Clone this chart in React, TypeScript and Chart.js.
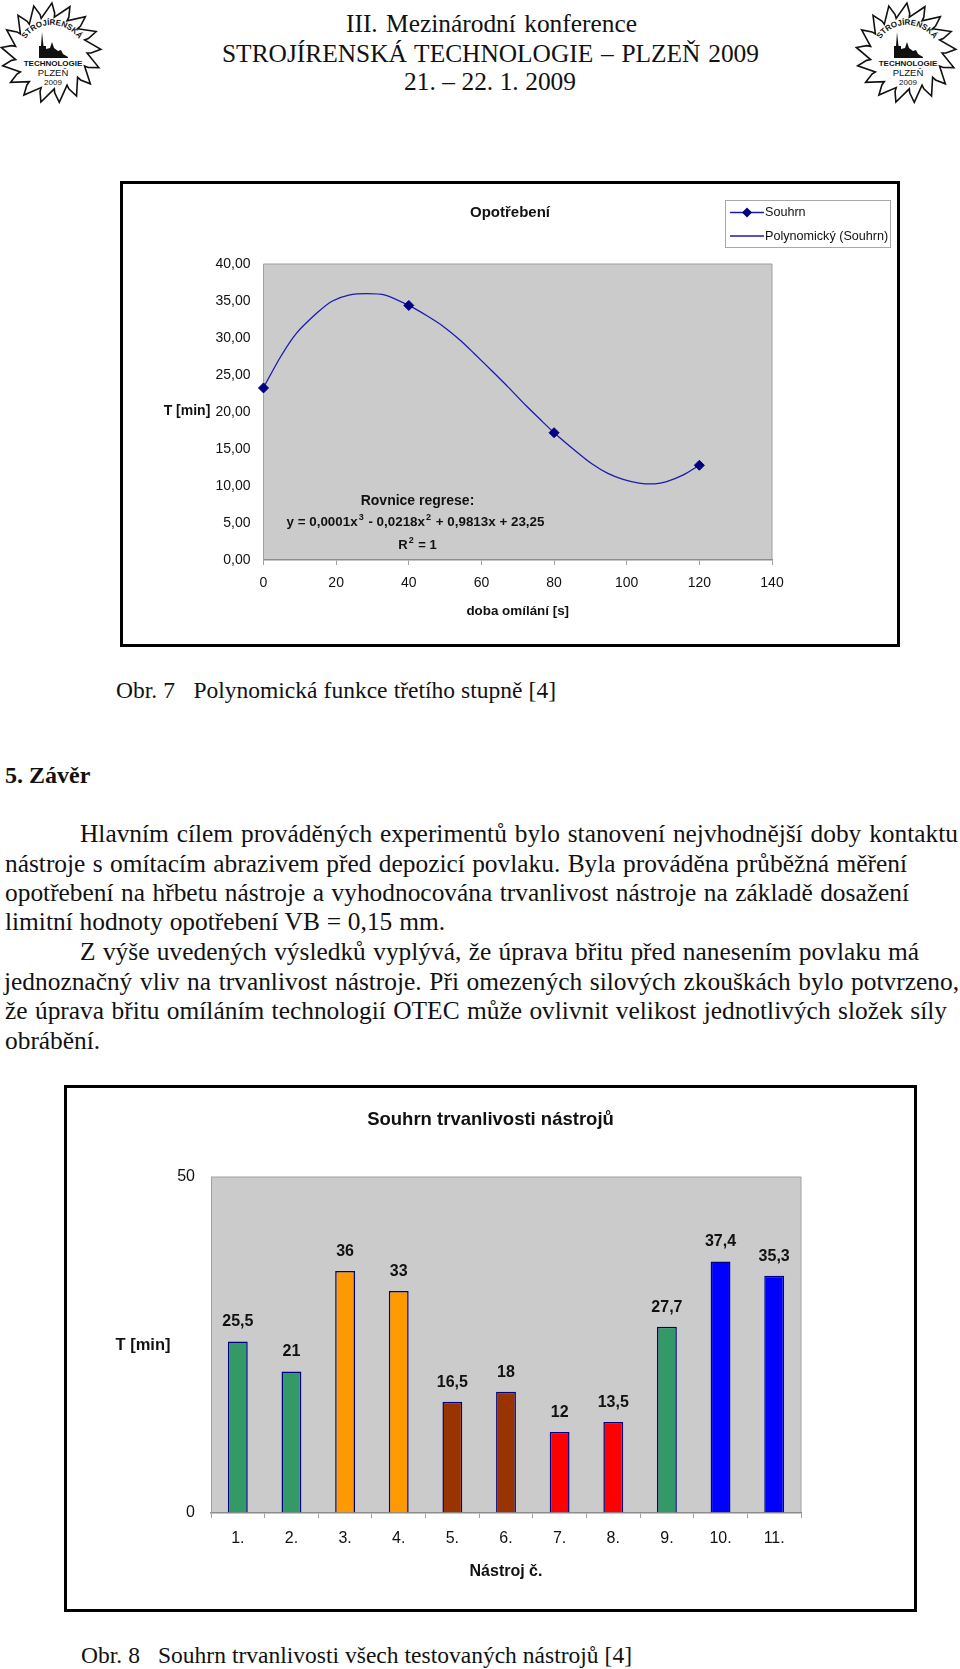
import React, { useEffect, useRef } from "react";
import { Chart, registerables } from "chart.js";

Chart.register(...registerables);

const SANS = '"Liberation Sans", Arial, sans-serif';
const SERIF = '"Liberation Serif", "Times New Roman", serif';
const INK = "#111111";

// Chart 1: wear
const measuredX = [0, 40, 80, 120];
const measuredY = [23.25, 34.4, 17.2, 12.8];
const trendX = [0, 4.75, 9, 15, 19, 23.5, 28.5, 33.5, 40, 45, 49.4, 54.4, 58, 63, 67.3, 72.4, 76.8, 80, 86, 90.4, 94.8, 99, 103.4, 107.7, 111, 115.6, 120];
const trendY = [23.3, 27.5, 30.6, 33.5, 35, 35.8, 36, 35.8, 34.4, 33, 31.6, 29.6, 27.9, 25.5, 23.4, 20.8, 18.7, 17.2, 14.7, 13, 11.7, 10.9, 10.4, 10.3, 10.6, 11.5, 12.8];

// Chart 2: tool life
const toolLabels = ["1.", "2.", "3.", "4.", "5.", "6.", "7.", "8.", "9.", "10.", "11."];
const toolLife = [25.5, 21, 36, 33, 16.5, 18, 12, 13.5, 27.7, 37.4, 35.3];
const toolColors = ["#339966", "#339966", "#FF9900", "#FF9900", "#993300", "#993300", "#FF0000", "#FF0000", "#339966", "#0000FF", "#0000FF"];

const headerLines = [
  { text: "III. Mezinárodní konference", x: 346, end: 637, base: 32 },
  { text: "STROJÍRENSKÁ TECHNOLOGIE – PLZEŇ 2009", x: 222, end: 759, base: 62 },
  { text: "21. – 22. 1. 2009", x: 404, end: 576, base: 90 },
];

const captionLines = [
  { text: "Obr. 7\u00A0\u00A0\u00A0Polynomická funkce třetího stupně [4]", x: 116, end: 556, base: 698 },
  { text: "Obr. 8\u00A0\u00A0\u00A0Souhrn trvanlivosti všech testovaných nástrojů [4]", x: 81, end: 632, base: 1663 },
];

const bodyLines = [
  { text: "Hlavním cílem prováděných experimentů bylo stanovení nejvhodnější doby kontaktu", x: 80, end: 958, base: 841.5 },
  { text: "nástroje s omítacím abrazivem před depozicí povlaku. Byla prováděna průběžná měření", x: 5, end: 907, base: 871.5 },
  { text: "opotřebení na hřbetu nástroje a vyhodnocována trvanlivost nástroje na základě dosažení", x: 5, end: 909, base: 901 },
  { text: "limitní hodnoty opotřebení VB = 0,15 mm.", x: 5, end: 445, base: 930 },
  { text: "Z výše uvedených výsledků vyplývá, že úprava břitu před nanesením povlaku má", x: 80, end: 919, base: 960 },
  { text: "jednoznačný vliv na trvanlivost nástroje. Při omezených silových zkouškách bylo potvrzeno,", x: 4, end: 959, base: 990 },
  { text: "že úprava břitu omíláním technologií OTEC může ovlivnit velikost jednotlivých složek síly", x: 5, end: 947, base: 1019 },
  { text: "obrábění.", x: 5, end: 99, base: 1048.5 },
];

const plotBackground = {
  id: "plotBackground",
  beforeDraw(chart: any) {
    const { ctx, chartArea: a } = chart;
    ctx.save();
    ctx.fillStyle = "#CBCBCB";
    ctx.fillRect(a.left, a.top, a.right - a.left, a.bottom - a.top);
    ctx.strokeStyle = "#A0A0A0";
    ctx.lineWidth = 1;
    ctx.beginPath();
    ctx.moveTo(a.left, a.top);
    ctx.lineTo(a.right, a.top);
    ctx.lineTo(a.right, a.bottom);
    ctx.stroke();
    ctx.restore();
  },
};

const barValueLabels = {
  id: "barValueLabels",
  afterDatasetsDraw(chart: any) {
    const { ctx } = chart;
    const meta = chart.getDatasetMeta(0);
    ctx.save();
    ctx.font = `bold 16px ${SANS}`;
    ctx.fillStyle = INK;
    ctx.textAlign = "center";
    ctx.textBaseline = "middle";
    meta.data.forEach((el: any, i: number) => {
      ctx.fillText(String(toolLife[i]).replace(".", ","), el.x, el.y - 19.5);
    });
    ctx.restore();
  },
};

function rightGutter(width: number) {
  return {
    position: "right",
    display: true,
    min: 0,
    max: 1,
    afterFit(s: any) { s.width = width; },
    ticks: { display: false },
    grid: { display: false, drawTicks: false },
    border: { display: false },
  };
}

function Line({ text, x, end, base, size, bold }: any) {
  const lh = 30;
  return (
    <div
      style={{
        position: "absolute",
        left: x,
        width: end - x,
        top: base - (lh / 2 + 0.3375 * size),
        height: lh,
        lineHeight: `${lh}px`,
        fontFamily: SERIF,
        fontSize: size,
        fontWeight: bold ? "bold" : "normal",
        color: "#111",
        whiteSpace: "nowrap",
        textAlign: "justify",
        textAlignLast: "justify",
      }}
    >
      {text}
    </div>
  );
}

function Label({ cx, cy, size, bold, children }: any) {
  return (
    <div
      style={{
        position: "absolute",
        left: cx - 200,
        width: 400,
        top: cy - 12,
        height: 24,
        lineHeight: "24px",
        textAlign: "center",
        fontFamily: SANS,
        fontSize: size,
        fontWeight: bold ? "bold" : "normal",
        color: INK,
        whiteSpace: "nowrap",
      }}
    >
      {children}
    </div>
  );
}

function sawPath() {
  const teeth = 17;
  const cx = 51;
  const cy = 52;
  const ro = 50;
  const ri = 36;
  let d = "";
  for (let i = 0; i < teeth; i++) {
    const a0 = (i / teeth) * 2 * Math.PI;
    const a1 = ((i + 0.8) / teeth) * 2 * Math.PI;
    const a2 = ((i + 1) / teeth) * 2 * Math.PI;
    d += `${i === 0 ? "M" : "L"}${cx + ri * Math.cos(a0)} ${cy + ri * Math.sin(a0)} `;
    d += `L${cx + ro * Math.cos(a1)} ${cy + ro * Math.sin(a1)} `;
    d += `L${cx + (ri + 4) * Math.cos(a2)} ${cy + (ri + 4) * Math.sin(a2)} `;
  }
  return d + "Z";
}

function Logo({ x, id }: any) {
  return (
    <svg width={104} height={106} viewBox="0 0 104 106" style={{ position: "absolute", left: x, top: 1 }}>
      <path d={sawPath()} fill="none" stroke="#111" strokeWidth={1.6} />
      <defs>
        <path id={id} d="M22 44 A32.4 32.4 0 0 1 82 44" />
      </defs>
      <text fontFamily={SANS} fontWeight="bold" fontSize={8} fill="#111">
        <textPath href={`#${id}`} startOffset="50%" textAnchor="middle">STROJÍRENSKÁ</textPath>
      </text>
      <path d="M39 57 L39 45 L41 45 L42 31 L43.5 45 L46 45 L46 48 L50 47 L52 41 L54 47 L58 50 L61 49 L63 53 L68 56 L68 57 Z" fill="#111" />
      <text x={53} y={64.5} textAnchor="middle" fontFamily={SANS} fontWeight="bold" fontSize={8} fill="#111">TECHNOLOGIE</text>
      <text x={53} y={74.5} textAnchor="middle" fontFamily={SANS} fontSize={9.5} fill="#111">PLZEŇ</text>
      <text x={53} y={83.5} textAnchor="middle" fontFamily={SANS} fontSize={8} fill="#111">2009</text>
    </svg>
  );
}

function WearChart() {
  const ref = useRef<HTMLCanvasElement | null>(null);
  useEffect(() => {
    const chart = new Chart(ref.current as HTMLCanvasElement, {
      type: "scatter",
      data: {
        datasets: [
          {
            label: "Souhrn",
            data: measuredX.map((x, i) => ({ x, y: measuredY[i] })),
            showLine: false,
            pointStyle: "rectRot",
            pointRadius: 5,
            backgroundColor: "#000080",
            borderColor: "#000080",
            clip: false,
          },
          {
            label: "Polynomický (Souhrn)",
            data: trendX.map((x, i) => ({ x, y: trendY[i] })),
            showLine: true,
            pointRadius: 0,
            borderColor: "#1A1AB0",
            borderWidth: 1.3,
            tension: 0.25,
            clip: false,
          },
        ],
      },
      options: {
        responsive: false,
        animation: false,
        layout: { padding: 0 },
        plugins: {
          legend: { display: false },
          tooltip: { enabled: false },
          title: {
            display: true,
            text: "Opotřebení",
            color: INK,
            font: { family: SANS, size: 15, weight: "bold", lineHeight: 1.2 },
            padding: { top: 20, bottom: 42 },
          },
        },
        scales: {
          x: {
            type: "linear",
            min: 0,
            max: 140,
            afterFit(s: any) { s.height = 84; },
            ticks: { stepSize: 20, color: INK, font: { family: SANS, size: 14 }, padding: 10, maxRotation: 0 },
            grid: { drawOnChartArea: false, drawTicks: true, tickLength: 5, color: "#A0A0A0" },
            border: { color: "#8C8C8C", width: 1.5 },
            title: {
              display: true,
              text: "doba omílání [s]",
              color: INK,
              font: { family: SANS, size: 13.4, weight: "bold", lineHeight: 1.2 },
              padding: { top: 0, bottom: 24.6 },
            },
          },
          y: {
            min: 0,
            max: 40,
            afterFit(s: any) { s.width = 140.5; },
            ticks: {
              stepSize: 5,
              color: INK,
              padding: 13,
              font: { family: SANS, size: 14 },
              callback: (v: any) => Number(v).toFixed(2).replace(".", ","),
            },
            grid: { display: false, drawTicks: false },
            border: { color: "#A0A0A0", width: 1 },
          },
          gutter: rightGutter(125),
        },
      },
      plugins: [plotBackground],
    } as any);
    return () => chart.destroy();
  }, []);
  return <canvas ref={ref} width={774} height={460} style={{ position: "absolute", left: 123, top: 184 }} />;
}

function LifeChart() {
  const ref = useRef<HTMLCanvasElement | null>(null);
  useEffect(() => {
    const chart = new Chart(ref.current as HTMLCanvasElement, {
      type: "bar",
      data: {
        labels: toolLabels,
        datasets: [
          {
            label: "T [min]",
            data: toolLife,
            backgroundColor: toolColors,
            borderColor: "#000080",
            borderWidth: 1.5,
            barPercentage: 0.37,
            categoryPercentage: 1,
          },
        ],
      },
      options: {
        responsive: false,
        animation: false,
        layout: { padding: 0 },
        plugins: {
          legend: { display: false },
          tooltip: { enabled: false },
          title: {
            display: true,
            text: "Souhrn trvanlivosti nástrojů",
            color: INK,
            font: { family: SANS, size: 18.5, weight: "bold", lineHeight: 1.2 },
            padding: { top: 20.6, bottom: 46.2 },
          },
        },
        scales: {
          x: {
            afterFit(s: any) { s.height = 96.5; },
            ticks: { color: INK, font: { family: SANS, size: 16 }, padding: 11, maxRotation: 0, autoSkip: false },
            grid: { drawOnChartArea: false, drawTicks: true, tickLength: 5.5, color: "#A0A0A0" },
            border: { color: "#8C8C8C", width: 1.5 },
            title: {
              display: true,
              text: "Nástroj č.",
              color: INK,
              font: { family: SANS, size: 16, weight: "bold", lineHeight: 1.2 },
              padding: { top: 0, bottom: 28 },
            },
          },
          y: {
            min: 0,
            max: 50,
            afterFit(s: any) { s.width = 144; },
            ticks: { stepSize: 50, color: INK, padding: 16, font: { family: SANS, size: 16 } },
            grid: { display: false, drawTicks: false },
            border: { color: "#A0A0A0", width: 1 },
          },
          gutter: rightGutter(113),
        },
      },
      plugins: [plotBackground, barValueLabels],
    } as any);
    return () => chart.destroy();
  }, []);
  return <canvas ref={ref} width={847} height={521} style={{ position: "absolute", left: 67, top: 1088 }} />;
}

const supStyle: React.CSSProperties = { fontSize: 9, verticalAlign: "6px", lineHeight: 0, margin: "0 1px" };

export default function App() {
  return (
    <div style={{ position: "absolute", left: 0, top: 0, width: 960, height: 1669, background: "#fff", overflow: "hidden" }}>
      <Logo x={0} id="arcL" />
      <Logo x={855} id="arcR" />
      {headerLines.map((l) => (
        <Line key={l.text} {...l} size={25.4} />
      ))}

      <div style={{ position: "absolute", left: 120, top: 181, width: 780, height: 466, boxSizing: "border-box", border: "3px solid #000" }} />
      <WearChart />
      <Label cx={187} cy={410} size={14} bold>T [min]</Label>
      <Label cx={417.5} cy={500} size={14} bold>Rovnice regrese:</Label>
      <Label cx={415.5} cy={522} size={13.4} bold>
        y = 0,0001x<sup style={supStyle}>3</sup> - 0,0218x<sup style={supStyle}>2</sup> + 0,9813x + 23,25
      </Label>
      <Label cx={417.5} cy={545} size={13} bold>
        R<sup style={supStyle}>2</sup> = 1
      </Label>

      <div style={{ position: "absolute", left: 725, top: 200, width: 166, height: 48, boxSizing: "border-box", border: "1px solid #A8A8A8" }}>
        <svg width={40} height={46} style={{ position: "absolute", left: 2, top: 0 }}>
          <line x1={2} y1={11.5} x2={36} y2={11.5} stroke="#1A1AB0" strokeWidth={1.3} />
          <path d="M19 6.5 L24 11.5 L19 16.5 L14 11.5 Z" fill="#000080" />
          <line x1={2} y1={35} x2={36} y2={35} stroke="#1A1AB0" strokeWidth={1.3} />
        </svg>
      </div>
      <div style={{ position: "absolute", left: 765, top: 202, height: 20, lineHeight: "20px", fontFamily: SANS, fontSize: 12.6, color: INK }}>Souhrn</div>
      <div style={{ position: "absolute", left: 765, top: 226, height: 20, lineHeight: "20px", fontFamily: SANS, fontSize: 12.6, color: INK, whiteSpace: "nowrap" }}>Polynomický (Souhrn)</div>

      <Line text="5. Závěr" x={5} end={87} base={783} size={24} bold />
      {bodyLines.map((l) => (
        <Line key={l.text} {...l} size={25.4} />
      ))}
      {captionLines.map((l) => (
        <Line key={l.text} {...l} size={23.5} />
      ))}

      <div style={{ position: "absolute", left: 64, top: 1085, width: 853, height: 527, boxSizing: "border-box", border: "3px solid #000" }} />
      <LifeChart />
      <Label cx={143} cy={1344} size={16.5} bold>T [min]</Label>
    </div>
  );
}
